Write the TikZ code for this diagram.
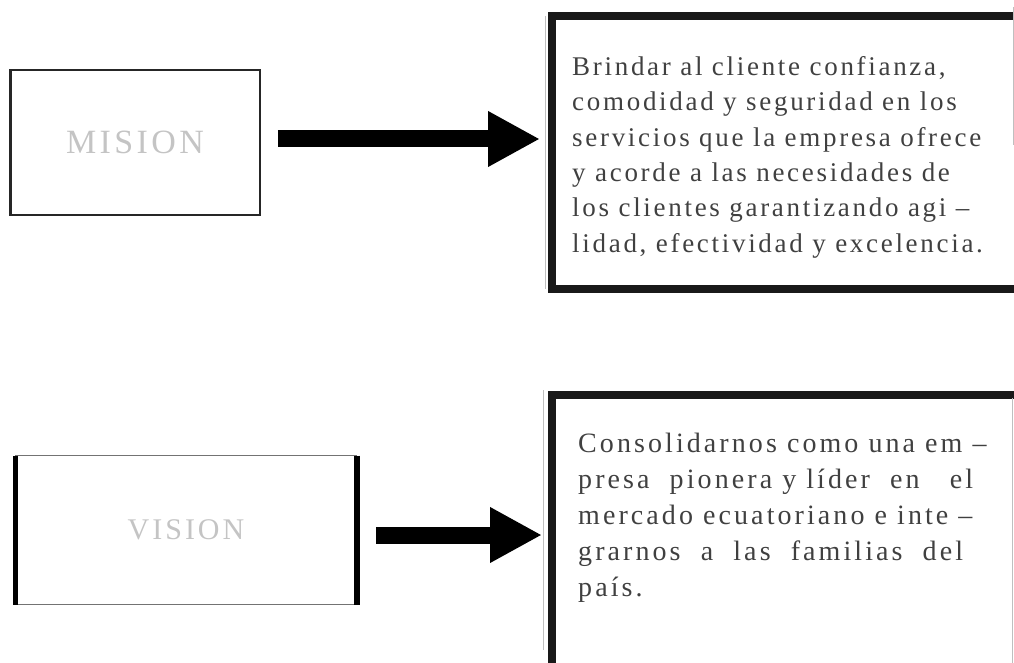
\documentclass[tikz,border=0pt]{standalone}
\usepackage{fontspec}
\setmainfont{Liberation Serif}
\newfontfamily\cajafont[LetterSpace=10]{Liberation Serif}
\newfontfamily\visionfont[LetterSpace=11]{Liberation Serif}
\newfontfamily\titulofont[LetterSpace=10]{Liberation Serif}
\usetikzlibrary{arrows.meta}
\definecolor{tinta}{HTML}{404040}
\definecolor{tenue}{HTML}{C4C4C4}
\tikzset{
  titulo/.style={draw=black!85, line width=2.5pt, outer sep=0pt, font=\fontsize{34}{40}\selectfont\titulofont, text=tenue},
  marco/.style={draw=black!90, line width=8pt, outer sep=0pt, anchor=north west},
  texto/.style={anchor=north west, inner sep=0pt, align=left, text=tinta},
  flecha/.style={line width=17pt, -{Triangle[length=52pt,width=52pt]}},
  sombra/.style={draw=black!25, line width=1pt}
}

\begin{document}
\begin{tikzpicture}[x=1pt,y=-1pt]
\useasboundingbox (0,0) rectangle (1014,663);
\clip (0,0) rectangle (1014,663);

% Mision
\node[titulo, minimum width=249.5pt, minimum height=144.5pt] (mision) at (135,142.5) {MISION};
\node[marco, minimum width=470pt, minimum height=273pt] (mision-caja) at (552,16) {};
\draw[sombra] ([xshift=-7pt]mision-caja.north west) -- ([xshift=-7pt]mision-caja.south west);
\draw[sombra] (1013,7) -- (1013,145);
\node[texto, font=\fontsize{27}{35.4}\selectfont\cajafont] (mision-txt) at ([xshift=20pt,yshift=-40pt]mision-caja.north west)
  {Brindar al cliente confianza,\\
   comodidad y seguridad en los\\
   servicios que la empresa ofrece\\
   y acorde a las necesidades de\\
   los clientes garantizando agi –\\
   lidad, efectividad y excelencia.};
\coordinate (f1) at ([yshift=3.5pt]mision.east);
\draw[flecha, shorten <=18pt, shorten >=12pt] (f1) -- (f1 -| mision-caja.west);

% Vision
\node[titulo, draw=black!55, line width=1.5pt, minimum width=341pt, minimum height=149pt, font=\fontsize{30}{36}\selectfont\titulofont] (vision) at (186,530) {VISION};
\draw[line width=5pt] (vision.north west) -- (vision.south west);
\draw[line width=6pt] (vision.north east) -- (vision.south east);
\node[marco, minimum width=470pt, minimum height=300pt] (vision-caja) at (551.5,395) {};
\draw[sombra] (543,390) -- (543,650);
\draw[sombra] (1012,398) -- (1012,663);
\node[texto, font=\fontsize{28}{36}\selectfont\visionfont] (vision-txt) at ([xshift=26.5pt,yshift=-38pt]vision-caja.north west)
  {Consolidarnos como una em –\\
   presa~~pionera y líder~~en~~~el\\
   mercado ecuatoriano e inte –\\
   grarnos~~a~~las~~familias~~del\\
   país.};
\coordinate (f2) at ([yshift=-5pt]vision.east);
\draw[flecha, shorten <=19.5pt, shorten >=9.5pt] (f2) -- (f2 -| vision-caja.west);
\end{tikzpicture}
\end{document}
